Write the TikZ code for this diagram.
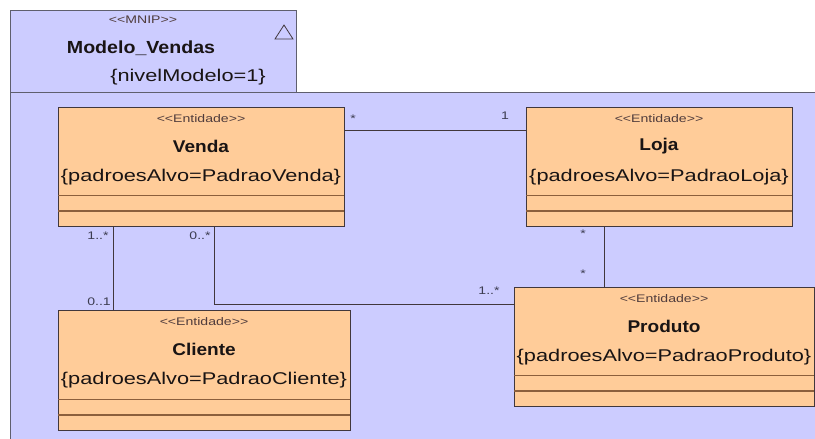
\documentclass[tikz,border=0pt]{standalone}
\usepackage{fontspec}
\setmainfont{Liberation Sans}
\newfontfamily\regw[FakeStretch=1.28]{Liberation Sans}
\newfontfamily\bldw[FakeStretch=1.12]{Liberation Sans}
\usetikzlibrary{calc}
\definecolor{pkgfill}{RGB}{204,204,255}
\definecolor{pkgline}{RGB}{95,95,110}
\definecolor{entfill}{RGB}{255,204,153}
\definecolor{entline}{RGB}{65,55,60}
\definecolor{compline}{RGB}{140,95,60}
\definecolor{txt}{RGB}{25,20,20}
\definecolor{stxt}{RGB}{80,60,60}
\definecolor{mtxt}{RGB}{60,60,80}
\begin{document}
\begin{tikzpicture}[x=1pt,y=-1pt,
  entity/.style={draw=entline, fill=entfill, line width=0.9pt, inner sep=0pt, outer sep=0pt, anchor=north west},
  stereo/.style={inner sep=0pt, text=stxt, font=\regw\fontsize{11}{13}\selectfont},
  ename/.style={inner sep=0pt, text=txt, font=\bldw\bfseries\fontsize{17}{20}\selectfont},
  econs/.style={inner sep=0pt, text=txt, font=\regw\fontsize{17}{20}\selectfont},
  mult/.style={inner sep=0pt, text=mtxt, font=\regw\fontsize{11}{13}\selectfont},
  conn/.style={draw=entline, line width=0.8pt},
  comp/.style={draw=compline, line width=0.8pt},
  comp2/.style={draw=compline, line width=1.2pt}]
\useasboundingbox (0,0) rectangle (815,439);
\fill[white] (0,0) rectangle (815,439);
% package
\fill[pkgfill] (10,10) rectangle (296,92);
\fill[pkgfill] (10,92) rectangle (815,439);
\draw[pkgline, line width=0.9pt] (10,92) -- (10,10) -- (296,10) -- (296,92);
\draw[pkgline, line width=0.9pt] (815,92) -- (10,92) -- (10,439);
\draw[entline, line width=0.8pt] (275,39) -- (284,25) -- (293,39) -- cycle;
\node[stereo] (pkgS) at (143,20) {<\kern0pt<MNIP>\kern0pt>};
\node[ename, font=\bldw\bfseries\fontsize{17.5}{20}\selectfont] (pkgN) at (141,48) {Modelo\_Vendas};
\node[econs] (pkgC) at (188,77) {\{nivelModelo=1\}};
% entities
\node[entity, minimum width=286pt, minimum height=119pt] (venda) at (58,107) {};
\node[entity, minimum width=266pt, minimum height=119pt] (loja) at (526,107) {};
\node[entity, minimum width=292pt, minimum height=120pt] (cliente) at (58,310) {};
\node[entity, minimum width=300pt, minimum height=119pt] (produto) at (514,287) {};
\foreach \e/\n/\c in {venda/Venda/PadraoVenda, loja/Loja/PadraoLoja, cliente/Cliente/PadraoCliente, produto/Produto/PadraoProduto}{
  \node[stereo] (\e S) at ($(\e.north)+(0,12)$) {<\kern0pt<Entidade>\kern0pt>};
  \node[ename] (\e N) at ($(\e.north)+(0,39)$) {\n};
  \node[econs] (\e C) at ($(\e.north)+(0,70)$) {\{padroesAlvo=\c\}};
  \draw[comp] ($(\e.south west)+(0,-31)$) -- ($(\e.south east)+(0,-31)$);
  \draw[comp2] ($(\e.south west)+(0,-15)$) -- ($(\e.south east)+(0,-15)$);
}
% connectors
\draw[conn] ($(venda.north east)+(0,23)$) -- ($(loja.north west)+(0,23)$);
\draw[conn] ($(venda.south west)+(55,0)$) -- ($(cliente.north west)+(55,0)$);
\draw[conn] ($(venda.south west)+(156,0)$) |- ($(produto.north west)+(0,17)$);
\draw[conn] ($(loja.south west)+(78,0)$) -- ($(produto.north west)+(90,0)$);
% multiplicities
\node[mult] (m1) at (353,119) {*};
\node[mult] (m2) at (505,116) {1};
\node[mult] (m3) at (98,236) {1..*};
\node[mult] (m4) at (200,236) {0..*};
\node[mult] (m5) at (99,302) {0..1};
\node[mult] (m6) at (489,291) {1..*};
\node[mult] (m7) at (583,234) {*};
\node[mult] (m8) at (583,274) {*};
\end{tikzpicture}
\end{document}
